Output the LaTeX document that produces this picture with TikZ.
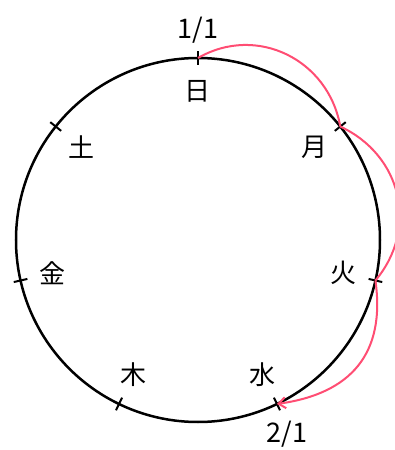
\documentclass[tikz,border=0pt]{standalone}
\usepackage{fontspec}
\newfontfamily\cjk{Noto Sans CJK JP}
\usetikzlibrary{arrows.meta}
\definecolor{arcred}{RGB}{255,77,115}
\begin{document}
\begin{tikzpicture}[x=1pt,y=1pt,
  circ/.style={draw=black,line width=2.5pt},
  tickmark/.style={draw=black,line width=2pt},
  lab/.style={font=\cjk\fontsize{26}{26}\selectfont,inner sep=0pt},
  datelab/.style={font=\cjk\fontsize{27}{27}\selectfont,inner sep=0pt},
  redarc/.style={draw=arcred,line width=2pt,looseness=1.1}]
\useasboundingbox (-198,-210) rectangle (197,240);
\clip (-198,-210) rectangle (197,240);
\draw[circ] (0,0) circle (182);
\foreach \i/\t in {0/日,1/月,2/火,3/水,4/木,5/金,6/土}{
  \coordinate (t\i) at ({90-360/7*\i}:182);
  \draw[tickmark] ({90-360/7*\i}:175) -- ({90-360/7*\i}:189);
  \node[lab] (d\i) at ({90-360/7*\i}:149) {\t};
}
\node[datelab] (start) at (0,210) {1/1};
\node[datelab] (end) at (89,-194) {2/1};
\draw[redarc] (t0) to[out=30,in=100] (t1);
\draw[redarc] (t1) to[out=-25,in=50] (t2);
\draw[redarc,-{Straight Barb[length=7pt,width=11pt]}] (t2) to[out=-82,in=8,looseness=1.2] (t3);
\end{tikzpicture}
\end{document}
